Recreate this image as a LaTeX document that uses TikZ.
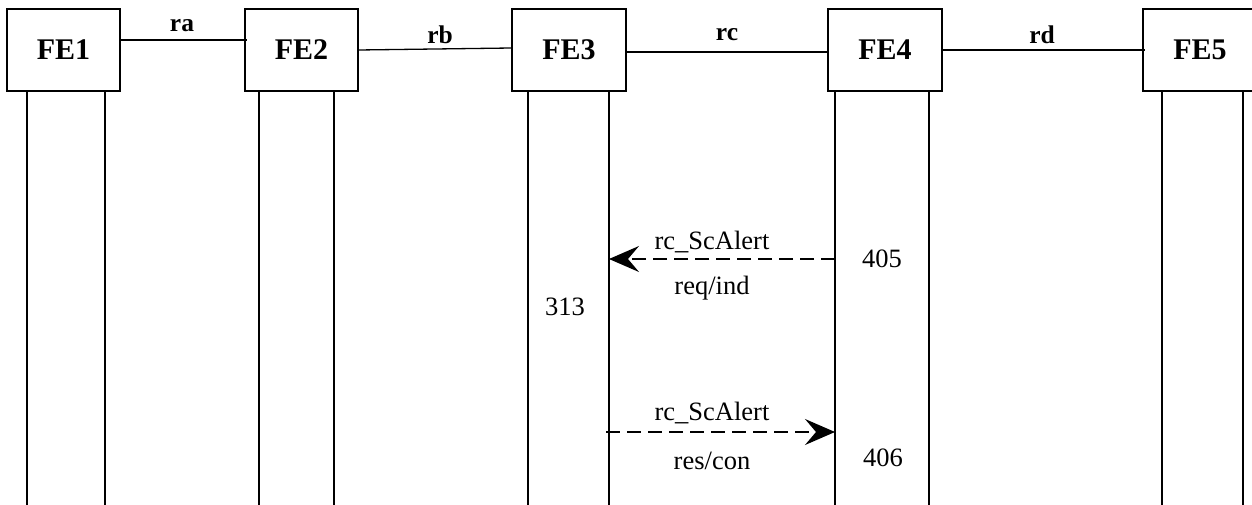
\documentclass[tikz,border=0pt]{standalone}
\usepackage{fontspec}
\setmainfont{Liberation Serif}
\usetikzlibrary{arrows.meta}
\begin{document}
\begin{tikzpicture}[x=1pt,y=-1pt,
  febox/.style={draw,line width=1.4pt,minimum width=113pt,minimum height=82pt,inner sep=0pt,font=\fontsize{30}{34}\selectfont\bfseries},
  life/.style={line width=1.4pt},
  link/.style={line width=1.3pt},
  linklbl/.style={font=\fontsize{25.5}{28}\selectfont\bfseries},
  msg/.style={line width=1.3pt,dash pattern=on 14pt off 7pt,-{Stealth[length=30pt,width=26pt,inset=11pt]}},
  txt/.style={font=\fontsize{26.5}{30}\selectfont}]
\useasboundingbox (0,0) rectangle (1252,505);
\clip (0,0) rectangle (1252,505);
\node[febox] (fe1) at (63.5,50) {FE1};
\node[febox] (fe2) at (301.5,50) {FE2};
\node[febox,minimum width=114pt] (fe3) at (569,50) {FE3};
\node[febox,minimum width=114pt] (fe4) at (885,50) {\raisebox{-3pt}{FE4}};
\node[febox,minimum width=114pt] (fe5) at (1200,50) {FE5};
% links
\draw[link] (fe1.east |- 0,40) -- ([xshift=3pt]fe2.west |- 0,40);
\draw[link] (fe2.east |- 0,50) -- (fe3.west |- 0,48);
\draw[link] (fe3.east |- 0,52) -- (fe4.west |- 0,52);
\draw[link] (fe4.east |- 0,50) -- ([xshift=3pt]fe5.west |- 0,50);
\node[linklbl] (ra) at (182,26) {ra};
\node[linklbl] (rb) at (440,35) {rb};
\node[linklbl] (rc) at (727,35) {rc};
\node[linklbl] (rd) at (1042,35) {rd};
% lifelines
\foreach \n/\a/\b in {fe1/27/105, fe2/259/334, fe3/528/609, fe4/835/929, fe5/1162/1243} {
  \draw[life] (\n.south -| \a,0) -- (\a,505);
  \draw[life] (\n.south -| \b,0) -- (\b,505);
}
% messages
\coordinate (m1s) at (835,259);
\coordinate (m1e) at (609,259);
\coordinate (m2s) at (606,432);
\coordinate (m2e) at (835,432);
\draw[msg] (m1s) -- (m1e);
\draw[msg] (m2s) -- (m2e);
\node[txt] (l1a) at (712,242) {rc\_ScAlert};
\node[txt] (l1b) at (712,288) {req/ind};
\node[txt] (n405) at (882,259) {405};
\node[txt] (n313) at (565,307) {313};
\node[txt] (l2a) at (712,413) {rc\_ScAlert};
\node[txt] (l2b) at (712,461) {res/con};
\node[txt] (n406) at (883,458) {406};
\end{tikzpicture}
\end{document}
